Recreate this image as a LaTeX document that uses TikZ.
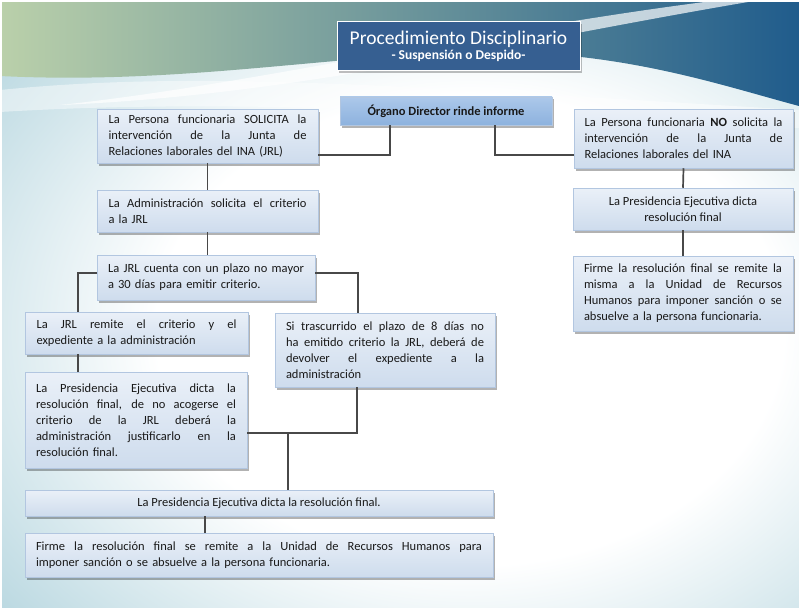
\documentclass[tikz,border=0pt]{standalone}
\usepackage{fontspec}
\setmainfont{Carlito}
\usetikzlibrary{shadows}
\definecolor{bgteal}{RGB}{78,150,170}
\definecolor{bgdeep}{RGB}{60,130,155}
\definecolor{bgmid}{RGB}{175,210,220}
\definecolor{topgreen}{RGB}{186,208,170}
\definecolor{topmid}{RGB}{170,208,208}
\definecolor{topblue}{RGB}{32,92,140}
\definecolor{boxtop}{RGB}{234,240,248}
\definecolor{boxbot}{RGB}{206,220,237}
\definecolor{boxline}{RGB}{178,198,224}
\definecolor{txt}{RGB}{25,25,25}
\definecolor{titleblue}{RGB}{54,95,145}
\definecolor{orgtop}{RGB}{172,200,234}
\definecolor{orgbot}{RGB}{141,178,222}
\definecolor{conncol}{RGB}{72,72,72}
\pgfdeclareradialshading{bgrad}{\pgfpoint{0bp}{0bp}}{color(0bp)=(white); color(14bp)=(white); color(29bp)=(bgmid); color(43bp)=(bgteal); color(50bp)=(bgdeep)}
\newcommand{\jl}[2][198pt]{\makebox[#1][s]{\spaceskip=0.25em plus 1em\relax #2}\\}
\begin{document}
\begin{tikzpicture}[x=1pt,y=-1pt,
  box/.style={draw=boxline, line width=0.5pt, top color=boxtop, bottom color=boxbot,
    drop shadow={shadow xshift=2pt, shadow yshift=-2.5pt, fill=black, opacity=0.3},
    text=txt, font=\fontsize{12.5}{16}\selectfont, inner sep=0pt, align=left},
  titlebox/.style={draw=white, line width=1pt, fill=titleblue, text=white,
    minimum width=243pt, minimum height=49pt, align=center, inner sep=0pt,
    drop shadow={shadow xshift=2pt, shadow yshift=-2.5pt, fill=black, opacity=0.25}},
  orgbox/.style={draw=boxline, line width=0.5pt, top color=orgtop, bottom color=orgbot,
    drop shadow={shadow xshift=2pt, shadow yshift=-2.5pt, fill=black, opacity=0.3},
    text=txt, font=\bfseries\fontsize{12.5}{15}\selectfont, inner sep=0pt,
    minimum width=212pt, minimum height=28pt},
  link/.style={draw=conncol, line width=1.7pt}
]
\useasboundingbox (0,0) rectangle (799,607);
% background
\fill[white] (0,0) rectangle (799,607);
\begin{scope}
\clip (2,3) rectangle (799,607);
\shade[shading=bgrad] (-90,-90) rectangle (1030,750);
\shade[left color=topgreen, middle color=topmid, right color=topblue]
  (0,0) -- (799,0) -- (799,106) .. controls (720,85) and (620,50) .. (480,52)
  .. controls (330,55) and (180,85) .. (0,76) -- cycle;
\fill[white, opacity=0.7] (60,105) .. controls (250,85) and (480,30) .. (720,0)
  -- (760,0) .. controls (520,40) and (300,95) .. (60,105) -- cycle;
\fill[white, opacity=0.45] (0,90) .. controls (200,70) and (400,86) .. (799,110)
  -- (799,128) .. controls (400,108) and (200,100) .. (0,112) -- cycle;
\end{scope}

% nodes
\node[titlebox] (title) at (458.5,46.5)
  {\fontsize{19.5}{23}\selectfont Procedimiento Disciplinario\\[1pt]
   {\bfseries\fontsize{13.5}{15}\selectfont - Suspensión o Despido-}};
\node[orgbox] (org) at (446,111) {Órgano Director rinde informe};

\node[box, minimum width=221pt, minimum height=54pt, text width=198pt] (lt) at (207.5,136)
  {\jl{La Persona funcionaria SOLICITA la}\jl{intervención de la Junta de}Relaciones laborales del INA (JRL)};
\node[box, minimum width=219pt, minimum height=59pt, text width=198pt] (rt) at (683.5,138.5)
  {\jl{La Persona funcionaria \textbf{NO} solicita la}\jl{intervención de la Junta de}Relaciones laborales del INA};
\node[box, minimum width=221pt, minimum height=42pt, text width=198pt] (adm) at (207.5,211)
  {\jl{La Administración solicita el criterio}a la JRL};
\node[box, minimum width=218pt, minimum height=45pt, text width=196pt] (jrl) at (206,277.5)
  {\jl[196pt]{La JRL cuenta con un plazo no mayor}a 30 días para emitir criterio.};
\node[box, minimum width=223pt, minimum height=42pt, text width=200pt] (rem) at (136.5,333)
  {\jl[200pt]{La JRL remite el criterio y el}expediente a la administración};
\node[box, minimum width=220pt, minimum height=74pt, text width=198pt] (si) at (385,350)
  {\jl{Si trascurrido el plazo de 8 días no}\jl{ha emitido criterio la JRL, deberá de}\jl{devolver el expediente a la}administración};
\node[box, minimum width=222pt, minimum height=96pt, text width=200pt] (pres) at (136,420)
  {\jl[200pt]{La Presidencia Ejecutiva dicta la}\jl[200pt]{resolución final, de no acogerse el}\jl[200pt]{criterio de la JRL deberá la}\jl[200pt]{administración justificarlo en la}resolución final.};
\node[box, minimum width=468pt, minimum height=26pt, align=center] (bp) at (259,503)
  {La Presidencia Ejecutiva dicta la resolución final.};
\node[box, minimum width=468pt, minimum height=44pt, text width=446pt] (bf) at (259,555)
  {\jl[446pt]{Firme la resolución final se remite a la Unidad de Recursos Humanos para}imponer sanción o se absuelve a la persona funcionaria.};
\node[box, minimum width=220pt, minimum height=42pt, align=center] (rp) at (683,209)
  {La Presidencia Ejecutiva dicta\\resolución final};
\node[box, minimum width=220pt, minimum height=75pt, text width=198pt] (rf) at (683,293.5)
  {\jl{Firme la resolución final se remite la}\jl{misma a la Unidad de Recursos}\jl{Humanos para imponer sanción o se}absuelve a la persona funcionaria.};

% connectors
\draw[link] ([yshift=-19pt]lt.east) -| ([xshift=-56pt]org.south);
\draw[link] ([xshift=49pt]org.south) |- ([yshift=-16.5pt]rt.west);
\draw[link] (lt.south) -- (adm.north);
\draw[link] (adm.south) -- (adm.south |- jrl.north);
\draw[link] ([yshift=4.5pt]jrl.west) -| ([xshift=-58.5pt]rem.north);
\draw[link] ([yshift=4.5pt]jrl.east) -| ([xshift=-27pt]si.north);
\draw[link] ([xshift=-58.5pt]rem.south) -- ([xshift=-58pt]pres.north);
\draw[link] ([xshift=-28pt]si.south) |- ([yshift=-13pt]pres.east);
\coordinate (j) at (288,433);
\draw[link] (j) -- (j |- bp.north);
\draw[link] ([xshift=-54pt]bp.south) -- ([xshift=-54pt]bf.north);
\draw[link] (rt.south) -- (rp.north);
\draw[link] (rp.south) -- (rf.north);
\end{tikzpicture}
\end{document}
